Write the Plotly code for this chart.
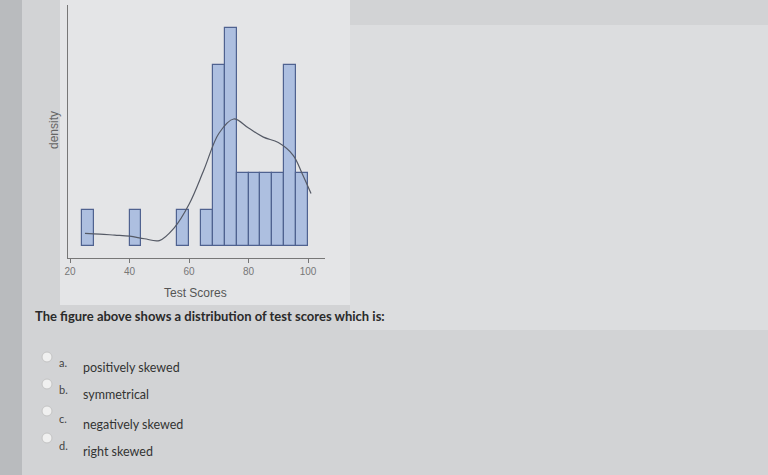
import plotly.graph_objects as go

# histogram bins (centres) and counts
bin_centers = [26, 42, 58, 66, 70, 74, 78, 82, 86, 90, 94, 98]
counts = [1, 1, 1, 1, 5, 6, 2, 2, 2, 2, 5, 2]

# density curve (in count units)
kde_x = [25, 30, 35, 40, 45, 50, 55, 60, 65, 70, 75, 80, 85, 90, 95, 98, 101]
kde_y = [0.35, 0.33, 0.3, 0.27, 0.2, 0.15, 0.5, 1.15, 2.1, 3.1, 3.5, 3.25, 3.0, 2.85, 2.5, 2.0, 1.45]

x_ticks = [20, 40, 60, 80, 100]

question = "The ﬁgure above shows a distribution of test scores which is:"
option_letters = ["a.", "b.", "c.", "d."]
option_texts = ["positively skewed", "symmetrical", "negatively skewed", "right skewed"]

W, H = 768, 475
ML, MR, MT, MB = 68, 443, 5, 217
PW, PH = W - ML - MR, H - MT - MB

def px(x):
    return (x - ML) / PW

def py(y):
    return (H - MB - y) / PH

fig = go.Figure()
fig.add_trace(go.Bar(
    x=bin_centers, y=counts, width=4,
    marker=dict(color="#adbfe0", line=dict(color="#4f6290", width=1.2)),
    showlegend=False, hoverinfo="skip",
))
fig.add_trace(go.Scatter(
    x=kde_x, y=kde_y, mode="lines", line=dict(color="#555a66", width=1.2, shape="spline"),
    showlegend=False, hoverinfo="skip",
))

shapes = [
    dict(type="rect", xref="paper", yref="paper", x0=px(0), x1=px(768), y0=py(475), y1=py(0),
         fillcolor="#d2d3d5", line=dict(width=0), layer="below"),
    dict(type="rect", xref="paper", yref="paper", x0=px(350), x1=px(768), y0=py(330), y1=py(25),
         fillcolor="#dcdddf", line=dict(width=0), layer="below"),
    dict(type="rect", xref="paper", yref="paper", x0=px(0), x1=px(22), y0=py(475), y1=py(0),
         fillcolor="#b9bbbe", line=dict(width=0), layer="below"),
    dict(type="rect", xref="paper", yref="paper", x0=px(60), x1=px(350), y0=py(305), y1=py(0),
         fillcolor="#e4e5e7", line=dict(width=0), layer="below"),
]

annotations = [
    dict(text="Test Scores", xref="paper", yref="paper", x=px(195), y=py(293), yanchor="middle",
         showarrow=False, font=dict(family="Liberation Sans, Arial", size=12, color="#555555")),
    dict(text="density", xref="paper", yref="paper", x=px(45), y=py(130), textangle=-90,
         yanchor="middle", showarrow=False,
         font=dict(family="Liberation Sans, Arial", size=12, color="#666666")),
    dict(text="<b>" + question + "</b>", xref="paper", yref="paper", x=px(33), y=py(316),
         xanchor="left", yanchor="middle", showarrow=False,
         font=dict(family="Lato, Open Sans", size=13, color="#2a2a2a")),
]
circle_y = [357, 384, 411, 438]
letter_y = [362, 389, 418, 445]
text_y = [367, 394, 424, 451]
for letter, text, cy, ly, ty in zip(option_letters, option_texts, circle_y, letter_y, text_y):
    shapes.append(dict(type="circle", xref="paper", yref="paper",
                       x0=px(42), x1=px(52), y0=py(cy + 5), y1=py(cy - 5),
                       fillcolor="#f0f0f0", line=dict(color="#c4c4c4", width=1)))
    annotations.append(dict(text=letter, xref="paper", yref="paper", x=px(57), y=py(ly),
                            xanchor="left", yanchor="middle", showarrow=False,
                            font=dict(family="Lato, Open Sans", size=11, color="#444444")))
    annotations.append(dict(text=text, xref="paper", yref="paper", x=px(81), y=py(ty),
                            xanchor="left", yanchor="middle", showarrow=False,
                            font=dict(family="Lato, Open Sans", size=12.5, color="#333333")))

fig.update_layout(
    width=W, height=H,
    margin=dict(l=ML, r=MR, t=MT, b=MB, pad=0),
    paper_bgcolor="#d2d3d5", plot_bgcolor="rgba(0,0,0,0)",
    bargap=0,
    shapes=shapes, annotations=annotations,
    xaxis=dict(range=[19.3, 105.7], tickvals=x_ticks, ticks="outside", ticklen=4,
               tickcolor="#777777", showgrid=False, zeroline=False, showline=True,
               linecolor="#777777", linewidth=1,
               tickfont=dict(family="Liberation Sans, Arial", size=10, color="#777777")),
    yaxis=dict(range=[-0.33, 6.64], showticklabels=False, ticks="", showgrid=False,
               zeroline=False, showline=True, linecolor="#777777", linewidth=1),
)

fig.write_html("out.html", config={"displayModeBar": False},
               post_script="document.body.style.margin='0';")
